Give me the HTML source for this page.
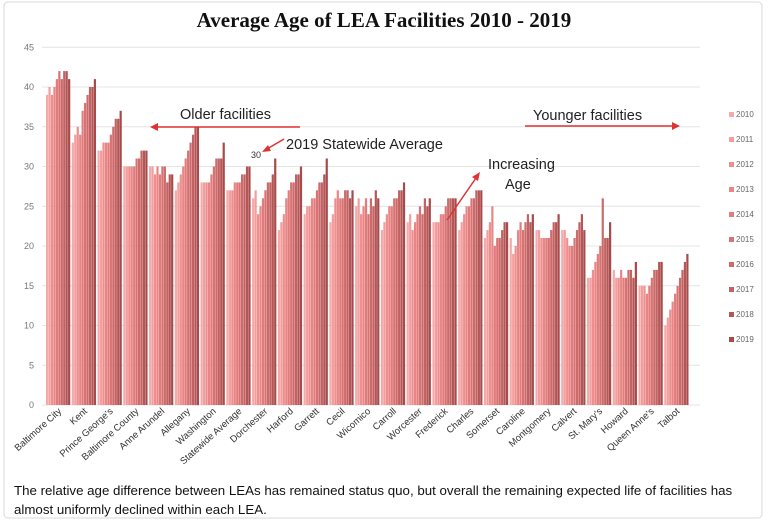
<!DOCTYPE html>
<html><head><meta charset="utf-8"><style>
body{margin:0;background:#fff;width:768px;height:522px;overflow:hidden;font-family:"Liberation Sans",sans-serif}
</style></head><body>
<svg id="s" width="768" height="522" xmlns="http://www.w3.org/2000/svg">
<rect x="4" y="2" width="758" height="516" rx="4" fill="#fff" stroke="#d8d8d8"/>
<text x="384" y="27" text-anchor="middle" font-family="Liberation Serif,serif" font-weight="bold" font-size="21" fill="#111">Average Age of LEA Facilities 2010 - 2019</text>
<g id="g"></g>
<text x="180" y="119" font-size="14.5" fill="#222">Older facilities</text>
<line x1="300" y1="127" x2="156" y2="127" stroke="#d33" stroke-width="1.5"/><polygon points="150,127 158,123 158,131" fill="#d33"/>
<text x="533" y="120" font-size="14.5" fill="#222">Younger facilities</text>
<line x1="525" y1="126" x2="674" y2="126" stroke="#d33" stroke-width="1.5"/><polygon points="680,126 672,122 672,130" fill="#d33"/>
<text x="286" y="149" font-size="14.5" fill="#222">2019 Statewide Average</text>
<line x1="284" y1="139" x2="267" y2="149" stroke="#d33" stroke-width="1.5"/><polygon points="262,152 268,145 271,151" fill="#d33"/>
<text x="251" y="158" font-size="9" fill="#333">30</text>
<text x="488" y="169" font-size="14.5" fill="#222">Increasing</text>
<text x="505" y="189" font-size="14.5" fill="#222">Age</text>
<line x1="447" y1="220" x2="476" y2="178" stroke="#d33" stroke-width="1.5"/><polygon points="480,172 472,177 478,181" fill="#d33"/>
<text x="14" y="495" font-size="13.3" fill="#111">The relative age difference between LEAs has remained status quo, but overall the remaining expected life of facilities has</text>
<text x="14" y="514" font-size="13.3" fill="#111">almost uniformly declined within each LEA.</text>
</svg>
<script>
var g=document.getElementById('g');var h='';
var y0=405,k=7.95;
for(var v=0;v<=45;v+=5){var y=y0-v*k;h+='<line x1="42" x2="700" y1="'+y+'" y2="'+y+'" stroke="#e4e4e4"/>';h+='<text x="34" y="'+(y+3)+'" font-size="9" fill="#777" text-anchor="end">'+v+'</text>';}
var names=["Baltimore City","Kent","Prince George's","Baltimore County","Anne Arundel","Allegany","Washington","Statewide Average","Dorchester","Harford","Garrett","Cecil","Wicomico","Carroll","Worcester","Frederick","Charles","Somerset","Caroline","Montgomery","Calvert","St. Mary's","Howard","Queen Anne's","Talbot"];
var d=[[39,40,39,40,41,42,41,42,42,41],[33,34,35,34,37,38,39,40,40,41],[32,32,33,33,33,34,35,36,36,37],[30,30,30,30,30,31,31,32,32,32],[30,30,29,30,29,30,30,28,29,29],[27,28,29,30,31,32,33,34,35,35],[28,28,28,28,29,30,31,31,31,33],[27,27,27,28,28,28,29,29,30,30],[26,27,24,25,26,27,28,28,29,31],[22,23,24,26,27,28,28,29,29,30],[24,25,25,26,26,27,28,28,29,31],[23,24,26,27,26,26,27,27,26,27],[25,26,24,25,26,24,26,25,27,26],[22,23,24,25,25,26,26,27,27,28],[23,24,22,23,24,25,24,26,25,26],[23,23,23,24,24,25,26,26,26,26],[22,23,24,25,25,26,26,27,27,27],[21,22,23,25,20,21,21,22,23,23],[21,19,20,22,23,22,23,24,23,24],[22,22,21,21,21,21,22,23,23,24],[22,22,21,20,20,21,22,23,24,22],[16,16,17,18,19,20,26,21,21,23],[17,16,16,17,16,16,17,17,16,18],[15,15,15,14,15,16,17,17,18,18],[10,11,12,13,14,15,16,17,18,19]];
var cols=["#f5aaaa","#f39d9d","#ee8f8f","#e98585","#e27b7b","#d97373","#cd6a6a","#c26262","#b45656","#a84a4a"];
var sp=(690-46)/25;
for(var i=0;i<25;i++){var x0=46+i*sp;for(var j=0;j<10;j++){var v=d[i][j];h+='<rect x="'+(x0+j*2.45).toFixed(2)+'" y="'+(y0-v*k).toFixed(1)+'" width="2.2" height="'+(v*k).toFixed(1)+'" fill="'+cols[j]+'"/>';}
var cx=x0+13;h+='<text transform="translate('+(cx+3)+',412) rotate(-42)" text-anchor="end" font-size="9.5" fill="#333">'+names[i].replace("'","&#39;")+'</text>';}
for(var j=0;j<10;j++){var y=117+j*25;h+='<rect x="729" y="'+(y-5)+'" width="5" height="5" fill="'+cols[j]+'"/><text x="736" y="'+y+'" font-size="8" fill="#666">'+(2010+j)+'</text>';}
g.innerHTML=h;
</script>
</body></html>
